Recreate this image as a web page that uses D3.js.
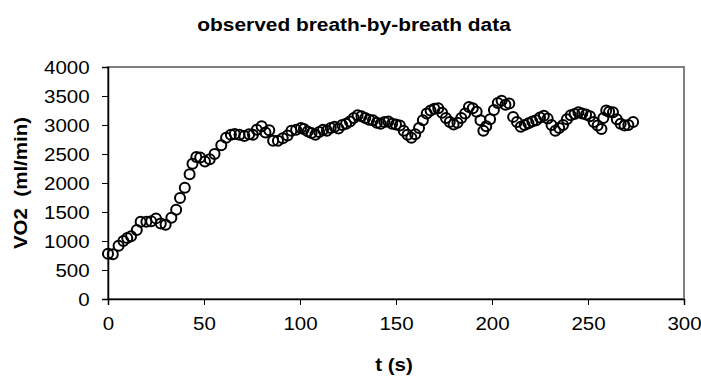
<!DOCTYPE html>
<html>
<head>
<meta charset="utf-8">
<script src="https://cdn.jsdelivr.net/npm/d3@7"></script>
<style>
  body { margin: 0; background: #fff; }
  svg text { font-family: "Liberation Sans", Arial, sans-serif; }
</style>
</head>
<body>
<div id="chart"></div>
<script>
var times = [0, 2.5, 5.5, 8, 10, 12, 15, 17, 20, 22.5, 25, 27.5, 30, 33, 35.5, 37.5, 40, 42.5, 44, 46,
  48, 50.5, 53, 55.5, 59, 61.5, 64, 66, 68.5, 71, 73.5, 75.5, 77.5, 80, 82, 84, 86, 88.5, 91, 93.5,
  95.5, 98, 100.5, 102, 104, 106, 108, 110, 112, 114, 116, 118, 120, 122, 124, 126, 128, 130, 132, 134,
  136, 138, 140, 142, 144, 146, 148, 150, 152, 154, 156, 158, 160, 162, 164, 166, 168, 170, 172, 174,
  176, 178, 180, 182, 184, 186, 188, 190, 192, 194, 195.5, 197, 199, 201, 203, 205, 207, 209, 211, 213,
  215, 217, 219, 221, 223, 225, 227, 229, 231, 233, 235, 237, 239, 241, 243, 245, 247, 249, 251, 253,
  255, 257, 258, 259.5, 261, 263, 265, 267, 269, 271, 273.5];
var vo2 = [780, 770, 920, 1000, 1050, 1080, 1190, 1330, 1330, 1340, 1390, 1300, 1280, 1400, 1540, 1740, 1920, 2150, 2330, 2450,
  2440, 2370, 2410, 2500, 2650, 2780, 2830, 2845, 2830, 2810, 2840, 2830, 2920, 2980, 2870, 2910, 2730, 2730, 2770, 2820,
  2900, 2920, 2950, 2930, 2890, 2860, 2830, 2880, 2920, 2900, 2950, 2970, 2940, 3000, 3020, 3060, 3120, 3170, 3150, 3120,
  3090, 3080, 3040, 3020, 3050, 3060, 3020, 3010, 2990, 2900, 2830, 2780, 2840, 2950, 3080, 3200, 3250, 3280, 3290, 3210,
  3120, 3050, 3010, 3040, 3120, 3200, 3310, 3290, 3230, 3080, 2900, 2980, 3100, 3260, 3380, 3420, 3350, 3370, 3140, 3050,
  2970, 3000, 3030, 3060, 3080, 3130, 3160, 3110, 3000, 2900, 2950, 3000, 3100, 3170, 3190, 3220, 3200, 3180, 3150, 3050,
  2990, 2930, 3120, 3250, 3230, 3220, 3100, 3020, 2990, 3000, 3050];

var xTicks = [0, 50, 100, 150, 200, 250, 300];
var yTicks = [0, 500, 1000, 1500, 2000, 2500, 3000, 3500, 4000];

var width = 701, height = 377;
var margin = {top: 67, right: 17, bottom: 78, left: 108};
var stretchX = 1.08; // the original text is a little wider than Arial

var svg = d3.select("#chart").append("svg")
  .attr("width", width)
  .attr("height", height);

var x = d3.scaleLinear().domain([0, 300]).range([margin.left, width - margin.right]);
var y = d3.scaleLinear().domain([0, 4000]).range([height - margin.bottom, margin.top]);

// plot area border (gray top/right)
svg.append("rect")
  .attr("x", x(0)).attr("y", y(4000))
  .attr("width", x(300) - x(0)).attr("height", y(0) - y(4000))
  .attr("fill", "none").attr("stroke", "#808080").attr("stroke-width", 2);

// axes
var yAxis = svg.append("g")
  .attr("transform", "translate(" + x(0) + ",0)")
  .call(d3.axisLeft(y).tickValues(yTicks).tickFormat(d3.format("d")).tickSize(6).tickPadding(11));
var xAxis = svg.append("g")
  .attr("transform", "translate(0," + y(0) + ")")
  .call(d3.axisBottom(x).tickValues(xTicks).tickFormat(d3.format("d")).tickSize(6).tickPadding(12));

[xAxis, yAxis].forEach(function(g){
  g.select(".domain").attr("stroke", "#000").attr("stroke-width", 1.5);
  g.selectAll(".tick line").attr("stroke", "#000");
  g.selectAll(".tick text")
    .attr("fill", "#000")
    .attr("font-family", null)
    .attr("font-size", null)
    .style("font-size", "19px")
    .attr("transform", "scale(" + stretchX + ",1)");
});

// markers
svg.append("g").selectAll("circle")
  .data(times)
  .join("circle")
  .attr("cx", function(d){ return x(d); })
  .attr("cy", function(d, i){ return y(vo2[i]); })
  .attr("r", 5)
  .attr("fill", "none")
  .attr("stroke", "#000")
  .attr("stroke-width", 2);

// title & labels
svg.append("text")
  .attr("transform", "translate(354,31) scale(1.1,1)")
  .attr("text-anchor", "middle")
  .style("font-size", "19px").style("font-weight", "bold")
  .text("observed breath-by-breath data");

svg.append("text")
  .attr("transform", "translate(394,371) scale(" + stretchX + ",1)")
  .attr("text-anchor", "middle")
  .style("font-size", "19px").style("font-weight", "bold")
  .text("t (s)");

svg.append("text")
  .attr("transform", "translate(27," + ((y(0) + y(4000)) / 2) + ") rotate(-90) scale(" + stretchX + ",1)")
  .attr("text-anchor", "middle")
  .style("font-size", "19px").style("font-weight", "bold")
  .attr("xml:space", "preserve")
  .text("VO2  (ml/min)");
</script>
</body>
</html>
